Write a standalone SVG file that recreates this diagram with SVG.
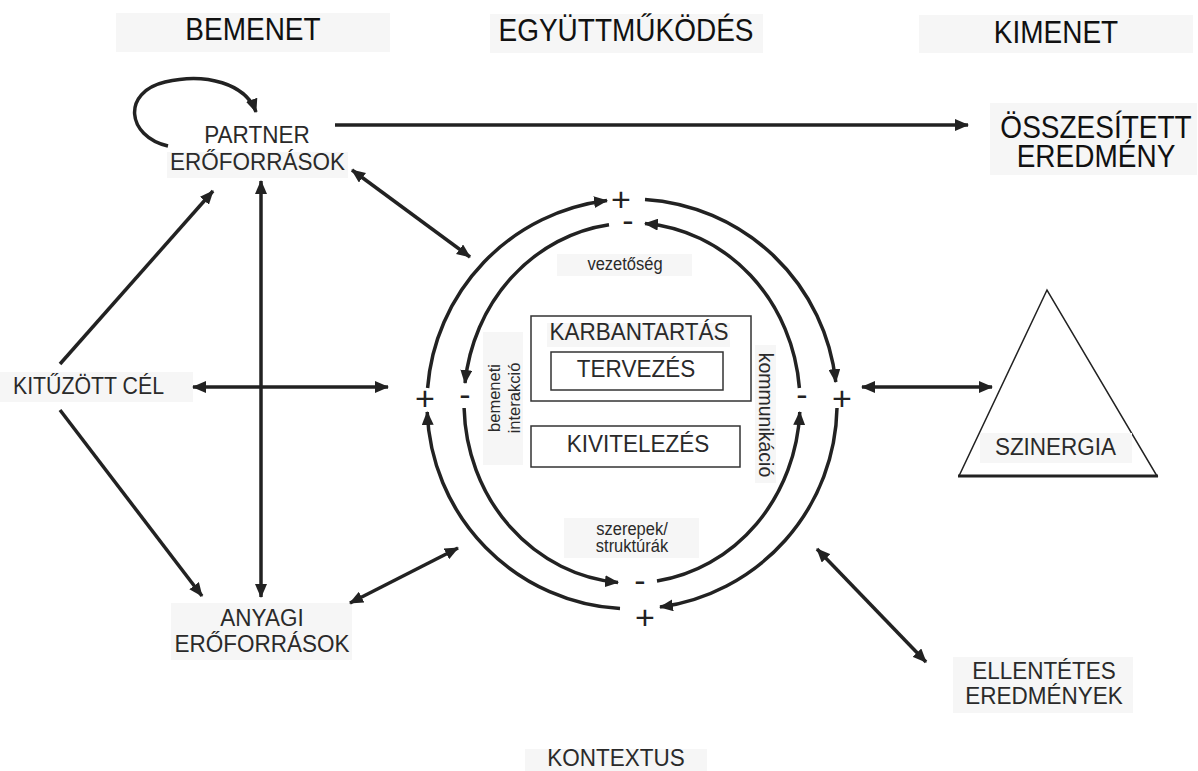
<svg xmlns="http://www.w3.org/2000/svg" width="1198" height="771" viewBox="0 0 1198 771">
<style>
text{font-family:"Liberation Sans",Arial,sans-serif;fill:#2a2a2a}
.h{font-size:28px;fill:#111}
.big{font-size:28px;fill:#111}
.m{font-size:22.5px}
.s{font-size:16.5px}
.sg{font-size:34px;fill:#222}
.bg{fill:#f6f6f6}
.ln{fill:none;stroke:#222;stroke-width:3.5}
.arr{marker-end:url(#ah)}
.dbl{marker-start:url(#ah);marker-end:url(#ah)}
.box{fill:#fff;stroke:#333;stroke-width:1.5}
</style>
<defs>
<marker id="ah" markerUnits="userSpaceOnUse" markerWidth="14" markerHeight="12" viewBox="0 0 14 12" refX="13" refY="6" orient="auto-start-reverse">
<path d="M0,0 L14,6 L0,12 z" fill="#222"/>
</marker>
</defs>
<rect width="1198" height="771" fill="#fff"/>

<g id="header-bemenet"><rect class="bg" x="116" y="13" width="274" height="39"/><text class="h" x="253" y="40" text-anchor="middle" transform="matrix(1 0 0 1.1 0 -4)">BEMENET</text></g>
<g id="header-egyuttmukodes"><rect class="bg" x="490" y="14" width="273" height="39"/><text class="h" x="626" y="41" text-anchor="middle" transform="matrix(1 0 0 1.1 0 -4.1)">EGYÜTTMŰKÖDÉS</text></g>
<g id="header-kimenet"><rect class="bg" x="919" y="15" width="274" height="38"/><text class="h" x="1056" y="43" text-anchor="middle" transform="matrix(1 0 0 1.1 0 -4.3)">KIMENET</text></g>

<g id="osszesitett"><rect class="bg" x="990" y="103" width="207" height="72"/><text class="big" x="1096" y="138" text-anchor="middle" transform="matrix(1 0 0 1.1 0 -13.8)">ÖSSZESÍTETT</text><text class="big" x="1096" y="167" text-anchor="middle" transform="matrix(1 0 0 1.1 0 -16.7)">EREDMÉNY</text></g>

<g id="partner"><rect class="bg" x="167" y="152" width="181" height="26"/><text class="m" x="257" y="143" text-anchor="middle" transform="matrix(1 0 0 1.1 0 -14.3)">PARTNER</text><text class="m" x="257.5" y="170" text-anchor="middle" transform="matrix(1 0 0 1.1 0 -17)">ERŐFORRÁSOK</text></g>

<g id="kituzott"><rect class="bg" x="0" y="372" width="193" height="30"/><text x="13" y="394" style="font-size:21.3px" transform="matrix(1 0 0 1.1 0 -39.4)">KITŰZÖTT CÉL</text></g>

<g id="anyagi"><rect class="bg" x="171" y="603" width="181" height="57"/><text class="m" x="262" y="626" text-anchor="middle" transform="matrix(1 0 0 1.1 0 -62.6)">ANYAGI</text><text class="m" x="262" y="652" text-anchor="middle" transform="matrix(1 0 0 1.1 0 -65.2)">ERŐFORRÁSOK</text></g>

<g id="kontextus"><rect class="bg" x="525" y="749" width="182" height="22"/><text class="m" x="616" y="766" text-anchor="middle" transform="matrix(1 0 0 1.05 0 -38.3)">KONTEXTUS</text></g>

<g id="ellentetes"><rect class="bg" x="953" y="657" width="180" height="56"/><text class="m" x="1044" y="679" text-anchor="middle" transform="matrix(1 0 0 1.1 0 -67.9)">ELLENTÉTES</text><text class="m" x="1044" y="704" text-anchor="middle" transform="matrix(1 0 0 1.1 0 -70.4)">EREDMÉNYEK</text></g>

<g id="szinergia">
<polygon points="1047,290 959,476 1157,476" fill="#fff" stroke="#222" stroke-width="1.5"/>
<line x1="958" y1="476" x2="1158" y2="476" stroke="#222" stroke-width="3"/>
<rect class="bg" x="980" y="433" width="152" height="30"/>
<text class="m" x="1055.5" y="455" text-anchor="middle" transform="matrix(1 0 0 1.1 0 -45.5)">SZINERGIA</text>
</g>

<g id="vezetoseg"><rect class="bg" x="557" y="254" width="135" height="22"/><text class="s" x="625" y="270" text-anchor="middle" transform="matrix(1 0 0 1.1 0 -27)">vezetőség</text></g>

<g id="karbantartas"><rect class="box" x="531" y="316" width="220" height="85"/><rect class="bg" x="547" y="323" width="183" height="24"/><text class="m" x="639" y="340" text-anchor="middle" transform="matrix(1 0 0 1.1 0 -34)">KARBANTARTÁS</text></g>
<g id="tervezes"><rect class="box" x="551" y="352" width="172" height="38"/><text class="m" x="636" y="377" text-anchor="middle" transform="matrix(1 0 0 1.1 0 -37.7)">TERVEZÉS</text></g>
<g id="kivitelezes"><rect class="box" x="531" y="426" width="209" height="41"/><text class="m" x="638" y="452" text-anchor="middle" transform="matrix(1 0 0 1.1 0 -45.2)">KIVITELEZÉS</text></g>

<g id="bemeneti-interakcio"><rect class="bg" x="483" y="332" width="40" height="133"/>
<text class="s" x="500" y="398" text-anchor="middle" transform="rotate(-90 500 398)">bemeneti</text>
<text class="s" x="520" y="398" text-anchor="middle" transform="rotate(-90 520 398)">interakció</text></g>

<g id="kommunikacio"><rect class="bg" x="755" y="345" width="21" height="138"/>
<text x="759" y="415" text-anchor="middle" transform="rotate(90 759 415)" style="font-size:19.5px">kommunikáció</text></g>

<g id="szerepek"><rect class="bg" x="564" y="518" width="135" height="40"/><text class="s" x="632" y="535" text-anchor="middle" transform="matrix(1 0 0 1.1 0 -53.5)">szerepek/</text><text class="s" x="632" y="552" text-anchor="middle" transform="matrix(1 0 0 1.1 0 -55.2)">struktúrák</text></g>

<g id="signs">
<text class="sg" x="621" y="211" text-anchor="middle">+</text>
<text class="sg" x="628" y="232" text-anchor="middle">-</text>
<text class="sg" x="425" y="410" text-anchor="middle">+</text>
<text class="sg" x="465" y="406" text-anchor="middle">-</text>
<text class="sg" x="802" y="406" text-anchor="middle">-</text>
<text class="sg" x="842" y="410" text-anchor="middle">+</text>
<text class="sg" x="640" y="592" text-anchor="middle">-</text>
<text class="sg" x="645" y="629" text-anchor="middle">+</text>
</g>

<g id="connectors">
<path class="ln arr" d="M427.6,388 A205,205 0 0 1 607,200.5"/>
<path class="ln arr" d="M645,199.4 A205,205 0 0 1 835.8,382"/>
<path class="ln arr" d="M837,408 A205,205 0 0 1 660,607.1"/>
<path class="ln arr" d="M620,608.6 A205,205 0 0 1 427.2,412"/>
<path class="ln arr" d="M799.4,388 A168,180 0 0 0 645,223.5"/>
<path class="ln arr" d="M609,224.7 A168,180 0 0 0 465,383"/>
<path class="ln arr" d="M464.1,408 A168,180 0 0 0 618,582.4"/>
<path class="ln arr" d="M657,581 A168,180 0 0 0 799.8,412"/>

<path class="ln arr" d="M168,146 C126,136 122,92 165,82 C206,72 246,84 256,112"/>
<line class="ln arr" x1="335" y1="125" x2="968" y2="125"/>
<line class="ln dbl" x1="352" y1="170" x2="470" y2="257"/>
<line class="ln dbl" x1="261" y1="181" x2="261" y2="597"/>
<line class="ln arr" x1="60" y1="364" x2="213" y2="191"/>
<line class="ln arr" x1="60" y1="410" x2="202" y2="596"/>
<line class="ln dbl" x1="193" y1="387" x2="388" y2="387"/>
<line class="ln dbl" x1="350" y1="603" x2="458" y2="548"/>
<line class="ln dbl" x1="817" y1="549" x2="926" y2="662"/>
<line class="ln dbl" x1="862" y1="387" x2="992" y2="387"/>
</g>
</svg>
